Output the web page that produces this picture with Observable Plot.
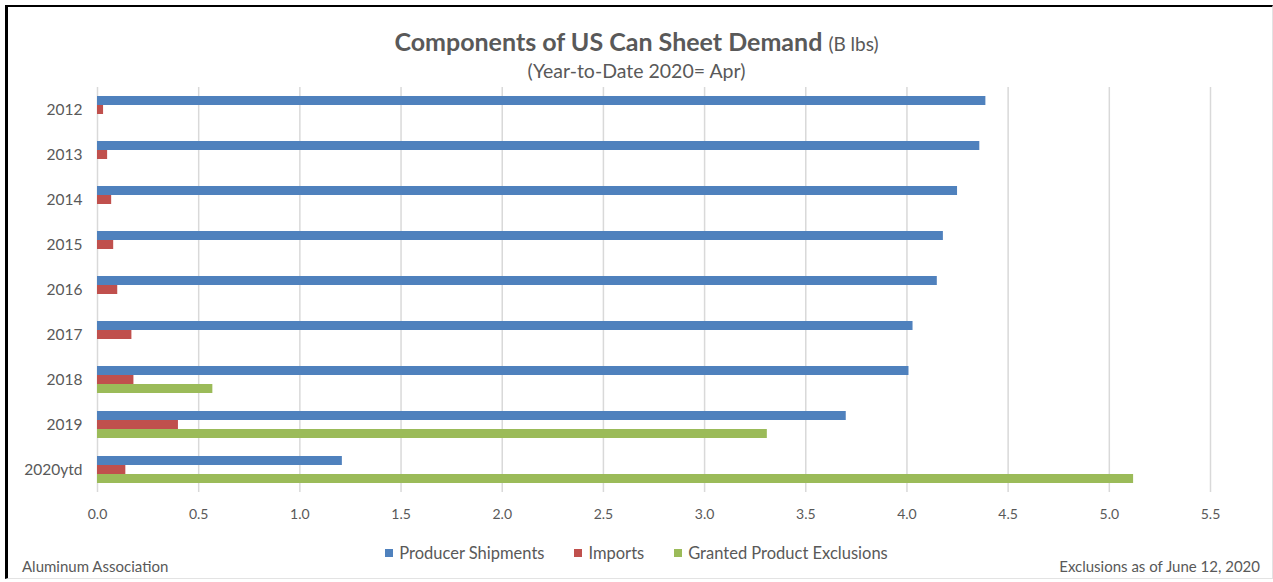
<!DOCTYPE html>
<html>
<head>
<meta charset="utf-8">
<script src="https://cdn.jsdelivr.net/npm/d3@7"></script>
<script src="https://cdn.jsdelivr.net/npm/@observablehq/plot@0.6"></script>
<style>
  html, body { margin: 0; padding: 0; background: #fff; }
  #wrap { position: relative; width: 1273px; height: 582px; overflow: hidden; font-family: Lato, "Open Sans", sans-serif; color: #595959; }
  #frame { position: absolute; left: 5px; top: 5px; width: 1264px; height: 571px; border-top: 2px solid #000; border-left: 3px solid #000; border-right: 1px solid #e3e3e3; border-bottom: 1px solid #e3e3e3; }
  #title { position: absolute; left: 0; width: 1273px; top: 26px; text-align: center; font-size: 25px; font-weight: bold; line-height: 30px; }
  #title span { font-weight: normal; font-size: 19px; }
  #subtitle { position: absolute; left: 0; width: 1273px; top: 59px; text-align: center; font-size: 19.5px; line-height: 24px; }
  #chart { position: absolute; left: 0; top: 0; }
  #legend { position: absolute; left: 0; width: 1273px; top: 542px; display: flex; justify-content: center; font-size: 16.5px; line-height: 22px; }
  #legend .item { display: flex; align-items: center; margin: 0 15px; }
  #legend .sw { width: 8px; height: 8px; margin-right: 6px; }
  .src { position: absolute; top: 556px; font-size: 15px; line-height: 20px; }
  #chart svg g[aria-label^="x-axis"] text { font-size: 14px; }
  #chart svg g[aria-label^="fy-axis"] text { font-size: 15.5px; }
</style>
</head>
<body>
<div id="wrap">
  <div id="frame"></div>
  <div id="chart"></div>
  <div id="title">Components of US Can Sheet Demand <span>(B lbs)</span></div>
  <div id="subtitle">(Year-to-Date 2020= Apr)</div>
  <div id="legend"></div>
  <div class="src" style="left:22px;">Aluminum Association</div>
  <div class="src" style="right:13px;">Exclusions as of June 12, 2020</div>
</div>
<script>
const years = ["2012", "2013", "2014", "2015", "2016", "2017", "2018", "2019", "2020ytd"];
const series = ["Producer Shipments", "Imports", "Granted Product Exclusions"];
const shipments = [4.39, 4.36, 4.25, 4.18, 4.15, 4.03, 4.01, 3.70, 1.21];
const imports = [0.03, 0.05, 0.07, 0.08, 0.10, 0.17, 0.18, 0.40, 0.14];
const exclusions = [0, 0, 0, 0, 0, 0, 0.57, 3.31, 5.12];
const colors = ["#4f81bd", "#c0504d", "#9bbb59"];
const xTicks = [0, 0.5, 1, 1.5, 2, 2.5, 3, 3.5, 4, 4.5, 5, 5.5];

const valuesBySeries = [shipments, imports, exclusions];
const data = years.flatMap((yr, i) =>
  series.map((s, j) => ({year: yr, series: s, value: valuesBySeries[j][i]}))
).filter(d => d.value > 0);

const chart = Plot.plot({
  width: 1273,
  height: 530,
  marginLeft: 97,
  marginRight: 63,
  marginTop: 85,
  marginBottom: 36,
  style: {fontFamily: "Lato, 'Open Sans', sans-serif", color: "#595959", background: "transparent", overflow: "visible"},
  x: {domain: [0, 5.5], ticks: xTicks, tickFormat: d3.format(".1f"), tickSize: 0, tickPadding: 17, label: null},
  y: {domain: series, axis: null, paddingInner: 0, paddingOuter: 1},
  fy: {domain: years, padding: 0, label: null, tickSize: 0, tickPadding: 15},
  color: {domain: series, range: colors},
  marks: [
    Plot.ruleX(xTicks, {stroke: "#d9d9d9", strokeWidth: 1.5}),
    Plot.barX(data, {x: "value", y: "series", fy: "year", fill: "series"})
  ]
});
document.getElementById("chart").appendChild(chart);

const legend = document.getElementById("legend");
series.forEach((s, i) => {
  const item = document.createElement("div");
  item.className = "item";
  const sw = document.createElement("div");
  sw.className = "sw";
  sw.style.background = colors[i];
  const t = document.createElement("span");
  t.textContent = s;
  item.appendChild(sw);
  item.appendChild(t);
  legend.appendChild(item);
});
</script>
</body>
</html>
